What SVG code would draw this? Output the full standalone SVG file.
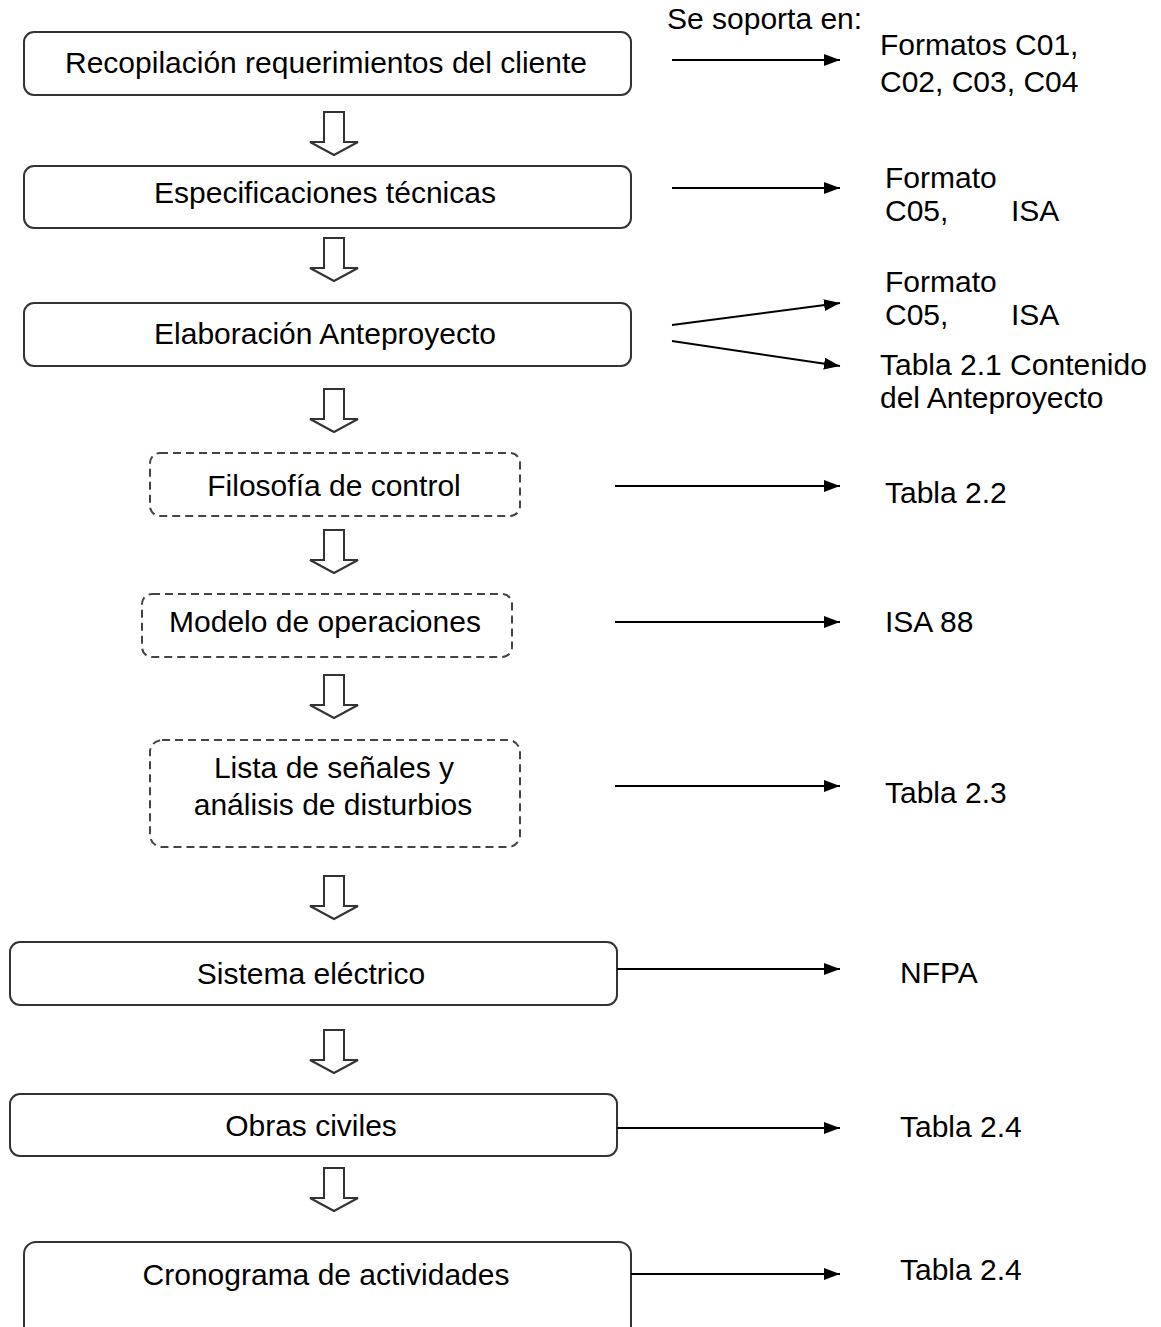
<svg xmlns="http://www.w3.org/2000/svg" width="1161" height="1327" viewBox="0 0 1161 1327">
  <style>
    .box { fill: #ffffff; stroke: #333333; stroke-width: 2; }
    .dash { fill: #ffffff; stroke: #444444; stroke-width: 2; stroke-dasharray: 8 5; }
    .t { font-family: "Liberation Sans", Arial, sans-serif; font-size: 30px; fill: #000000; }
    .c { text-anchor: middle; }
    .link { stroke: #000000; stroke-width: 2; fill: none; marker-end: url(#head); }
    .flow { fill: #ffffff; stroke: #333333; stroke-width: 2; stroke-linejoin: miter; }
  </style>
  <defs>
    <marker id="head" viewBox="0 0 10 10" refX="10" refY="5" markerWidth="16" markerHeight="12" markerUnits="userSpaceOnUse" orient="auto" preserveAspectRatio="none">
      <path d="M0,0 L10,5 L0,10 Z" fill="#000000"/>
    </marker>
    <!-- hollow down arrow between steps, top at y=0, centred at x=0 -->
    <path id="down" d="M-10,0 H10 V30 H24 L0,43 L-24,30 H-10 Z"/>
  </defs>

  <rect width="1161" height="1327" fill="#ffffff"/>

  <text class="t" x="667" y="29">Se soporta en:</text>

  <!-- process steps -->
  <g id="step-requerimientos">
    <rect class="box" x="24" y="32" width="607" height="63" rx="10"/>
    <text class="t c" x="326" y="73">Recopilación requerimientos del cliente</text>
  </g>
  <g id="step-especificaciones">
    <rect class="box" x="24" y="166" width="607" height="62" rx="10"/>
    <text class="t c" x="325" y="203">Especificaciones técnicas</text>
  </g>
  <g id="step-anteproyecto">
    <rect class="box" x="24" y="303" width="607" height="63" rx="10"/>
    <text class="t c" x="325" y="344">Elaboración Anteproyecto</text>
  </g>
  <g id="step-filosofia">
    <rect class="dash" x="150" y="453" width="370" height="63" rx="10"/>
    <text class="t c" x="334" y="496">Filosofía de control</text>
  </g>
  <g id="step-modelo">
    <rect class="dash" x="142" y="594" width="370" height="63" rx="10"/>
    <text class="t c" x="325" y="632">Modelo de operaciones</text>
  </g>
  <g id="step-senales">
    <rect class="dash" x="150" y="740" width="370" height="107" rx="12"/>
    <text class="t c" x="334" y="778">Lista de señales y</text>
    <text class="t c" x="333" y="815">análisis de disturbios</text>
  </g>
  <g id="step-electrico">
    <rect class="box" x="10" y="942" width="607" height="63" rx="10"/>
    <text class="t c" x="311" y="984">Sistema eléctrico</text>
  </g>
  <g id="step-civiles">
    <rect class="box" x="10" y="1094" width="607" height="62" rx="10"/>
    <text class="t c" x="311" y="1136">Obras civiles</text>
  </g>
  <g id="step-cronograma">
    <rect class="box" x="24" y="1242" width="607" height="110" rx="12"/>
    <text class="t c" x="326" y="1285">Cronograma de actividades</text>
  </g>

  <!-- supporting references -->
  <g id="ref-formatos">
    <text class="t" x="880" y="55">Formatos C01,</text>
    <text class="t" x="880" y="92">C02, C03, C04</text>
  </g>
  <g id="ref-c05-a">
    <text class="t" x="885" y="188">Formato</text>
    <text class="t" x="885" y="221">C05,</text>
    <text class="t" x="1011" y="221">ISA</text>
  </g>
  <g id="ref-c05-b">
    <text class="t" x="885" y="292">Formato</text>
    <text class="t" x="885" y="325">C05,</text>
    <text class="t" x="1011" y="325">ISA</text>
  </g>
  <g id="ref-tabla-21">
    <text class="t" x="880" y="375">Tabla 2.1 Contenido</text>
    <text class="t" x="880" y="408">del Anteproyecto</text>
  </g>
  <g id="ref-tabla-22"><text class="t" x="885" y="503">Tabla 2.2</text></g>
  <g id="ref-isa88"><text class="t" x="885" y="632">ISA 88</text></g>
  <g id="ref-tabla-23"><text class="t" x="885" y="803">Tabla 2.3</text></g>
  <g id="ref-nfpa"><text class="t" x="900" y="983">NFPA</text></g>
  <g id="ref-tabla-24a"><text class="t" x="900" y="1137">Tabla 2.4</text></g>
  <g id="ref-tabla-24b"><text class="t" x="900" y="1280">Tabla 2.4</text></g>

  <!-- connectors -->
  <g id="connectors">
    <use href="#down" class="flow" x="334" y="112"/>
    <use href="#down" class="flow" x="334" y="238"/>
    <use href="#down" class="flow" x="334" y="389"/>
    <use href="#down" class="flow" x="334" y="530"/>
    <use href="#down" class="flow" x="334" y="675"/>
    <use href="#down" class="flow" x="334" y="876"/>
    <use href="#down" class="flow" x="334" y="1030"/>
    <use href="#down" class="flow" x="334" y="1168"/>

    <line class="link" x1="672" y1="60" x2="840" y2="60"/>
    <line class="link" x1="672" y1="188" x2="840" y2="188"/>
    <line class="link" x1="672" y1="325" x2="840" y2="303"/>
    <line class="link" x1="672" y1="341" x2="840" y2="366"/>
    <line class="link" x1="615" y1="486" x2="840" y2="486"/>
    <line class="link" x1="615" y1="622" x2="840" y2="622"/>
    <line class="link" x1="615" y1="786" x2="840" y2="786"/>
    <line class="link" x1="617" y1="969" x2="840" y2="969"/>
    <line class="link" x1="617" y1="1128" x2="840" y2="1128"/>
    <line class="link" x1="631" y1="1274" x2="840" y2="1274"/>
  </g>
</svg>
